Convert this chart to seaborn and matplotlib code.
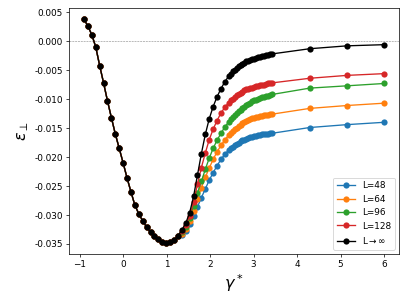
import numpy as np
import pandas as pd
import matplotlib
matplotlib.use('Agg')
import matplotlib.pyplot as plt
import seaborn as sns

# gamma* values: coarse part, finer part near the plateau, three far points
gamma_coarse = [-0.90, -0.81, -0.72, -0.63, -0.54, -0.45, -0.36, -0.27, -0.18, -0.09,
                0.00, 0.09, 0.18, 0.27, 0.36, 0.45, 0.54, 0.63, 0.72, 0.81,
                0.90, 0.99, 1.08, 1.17, 1.26, 1.35, 1.44, 1.53, 1.62, 1.71,
                1.80, 1.89, 1.98, 2.07, 2.16, 2.25, 2.34]
gamma_fine = [2.43, 2.475, 2.52, 2.565, 2.61, 2.655, 2.70, 2.745, 2.79, 2.835,
              2.88, 2.925, 2.97, 3.015, 3.06, 3.105, 3.15, 3.195, 3.24, 3.285,
              3.33, 3.375, 3.42]
gamma_far = [4.29, 5.15, 6.00]

# all sizes coincide for gamma* < 1.3
eps_shared = [0.0038, 0.0026, 0.0011, -0.0010, -0.0042, -0.0072, -0.0103, -0.0132, -0.0160, -0.0185,
              -0.0210, -0.0236, -0.0260, -0.0283, -0.0298, -0.0310, -0.0321, -0.0330, -0.0337, -0.0342,
              -0.0346, -0.0348, -0.0347, -0.0343, -0.0336]

# gamma* = 1.35 ... 3.42
tail_inf = [-0.0326, -0.0314, -0.0296, -0.0268, -0.0231, -0.0194, -0.0161, -0.0134, -0.0113, -0.0096,
            -0.0082, -0.0070,
            -0.0060, -0.0056, -0.0052, -0.0049, -0.0046, -0.0043, -0.0041, -0.0039, -0.0037, -0.0035,
            -0.0034, -0.0032, -0.0031, -0.0030, -0.0029, -0.0028, -0.0027, -0.0026, -0.0025, -0.0024,
            -0.0023, -0.00225, -0.0022]
tail_128 = [-0.0328, -0.0318, -0.0302, -0.0278, -0.0247, -0.0218, -0.0193, -0.0170, -0.0152, -0.0137,
            -0.0124, -0.0114,
            -0.0106, -0.0102, -0.0099, -0.0096, -0.0093, -0.0091, -0.0089, -0.0087, -0.0085, -0.0083,
            -0.0082, -0.0081, -0.0080, -0.0079, -0.0078, -0.0077, -0.0076, -0.00755, -0.0075, -0.0074,
            -0.0073, -0.00725, -0.0072]
tail_96 = [-0.0330, -0.0320, -0.0305, -0.0284, -0.0262, -0.0242, -0.0221, -0.0202, -0.0185, -0.0171,
           -0.0159, -0.0148,
           -0.0139, -0.0135, -0.0131, -0.0127, -0.0124, -0.0121, -0.0118, -0.0115, -0.0113, -0.0110,
           -0.0108, -0.0106, -0.0104, -0.0102, -0.0101, -0.0099, -0.0098, -0.0097, -0.0096, -0.0095,
           -0.0094, -0.0093, -0.0092]
tail_64 = [-0.0332, -0.0324, -0.0311, -0.0293, -0.0272, -0.0253, -0.0235, -0.0219, -0.0204, -0.0191,
           -0.0180, -0.0170,
           -0.0162, -0.0158, -0.0155, -0.0152, -0.0149, -0.0146, -0.0144, -0.0142, -0.0140, -0.0138,
           -0.0136, -0.0134, -0.0133, -0.0132, -0.0131, -0.0130, -0.0129, -0.01285, -0.0128, -0.01275,
           -0.0127, -0.01265, -0.0126]
tail_48 = [-0.0334, -0.0327, -0.0316, -0.0302, -0.0286, -0.0270, -0.0255, -0.0240, -0.0227, -0.0215,
           -0.0204, -0.0195,
           -0.0188, -0.0185, -0.0182, -0.0179, -0.0177, -0.0175, -0.0173, -0.0171, -0.0170, -0.0168,
           -0.0167, -0.0166, -0.0165, -0.0164, -0.0163, -0.0162, -0.0162, -0.0161, -0.0161, -0.0160,
           -0.0160, -0.0159, -0.0159]

far_inf = [-0.0013, -0.0008, -0.0006]
far_128 = [-0.0064, -0.0059, -0.0056]
far_96 = [-0.0081, -0.0077, -0.0073]
far_64 = [-0.0116, -0.0111, -0.0107]
far_48 = [-0.0149, -0.0144, -0.0140]

labels = ['L=48', 'L=64', 'L=96', 'L=128', r'L$\rightarrow\infty$']
colors = ['#1f77b4', '#ff7f0e', '#2ca02c', '#d62728', 'black']
tails = [tail_48, tail_64, tail_96, tail_128, tail_inf]
fars = [far_48, far_64, far_96, far_128, far_inf]

gamma = gamma_coarse + gamma_fine + gamma_far

fig = plt.figure(figsize=(409 / 64, 302 / 64), dpi=64)
ax = fig.add_axes([69 / 409, 1 - 254 / 302, 330 / 409, 246 / 302])

ax.axhline(0, color='grey', ls='--', lw=0.6, zorder=0)

for lab, col, tail, far in zip(labels, colors, tails, fars):
    eps = eps_shared + tail + far
    df = pd.DataFrame({'gamma': gamma, 'eps': eps})
    sns.lineplot(data=df, x='gamma', y='eps', color=col, marker='o',
                 markersize=7, markeredgewidth=0, lw=1.5, label=lab, ax=ax)

ax.set_xticks(range(-1, 7))
ax.set_yticks([0.005, 0.0, -0.005, -0.010, -0.015, -0.020, -0.025, -0.030, -0.035])
ax.yaxis.set_major_formatter(matplotlib.ticker.FormatStrFormatter('%.3f'))
ax.set_xlabel(r'$\gamma^*$', fontsize=18)
ax.set_ylabel(r'$\epsilon_\perp$', fontsize=18)
ax.legend(loc='lower right')

fig.savefig('out.png', dpi=64)
